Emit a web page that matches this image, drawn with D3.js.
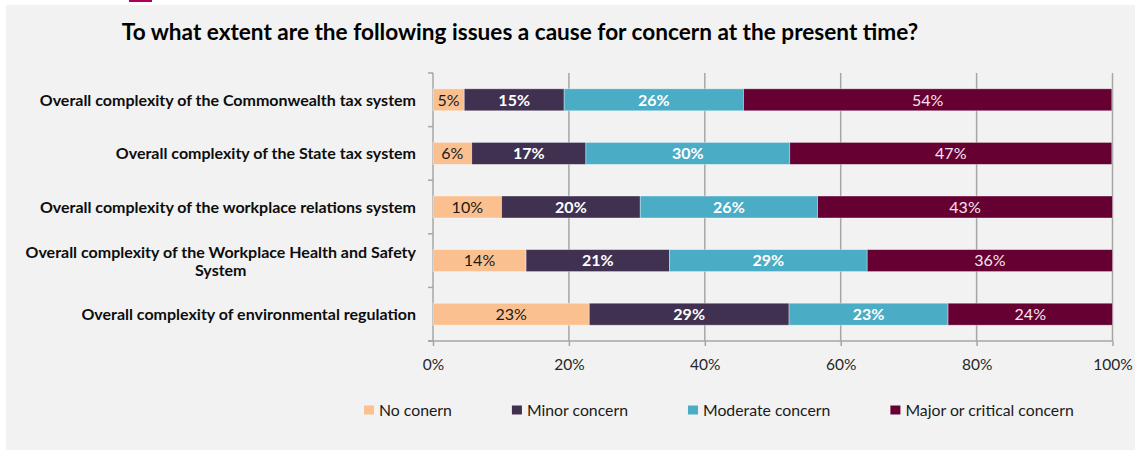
<!DOCTYPE html>
<html>
<head>
<meta charset="utf-8">
<script src="https://cdn.jsdelivr.net/npm/d3@7"></script>
<style>
  html, body { margin: 0; padding: 0; background: #ffffff; }
  svg { display: block; }
  text { font-family: Lato, "Open Sans", sans-serif; }
</style>
</head>
<body>
<svg id="chart" width="1135" height="450"></svg>
<script>
// ---- data ----
const title = "To what extent are the following issues a cause for concern at the present time?";
const categories = [
  "Overall complexity of the Commonwealth tax system",
  "Overall complexity of the State tax system",
  "Overall complexity of the workplace relations system",
  "Overall complexity of the Workplace Health and Safety System",
  "Overall complexity of environmental regulation"
];
const seriesNames = ["No conern", "Minor concern", "Moderate concern", "Major or critical concern"];
const noConcern = [4.6, 5.7, 10.1, 13.7, 23.0];
const minorConcern = [14.7, 16.8, 20.4, 21.1, 29.4];
const moderateConcern = [26.4, 30.0, 26.1, 29.1, 23.4];
const majorConcern = [54.2, 47.4, 43.4, 36.1, 24.2];
const xTicks = [0, 20, 40, 60, 80, 100];

// ---- styles ----
const colors = ["#fac090", "#403151", "#4bacc6", "#660033"];
const labelColors = ["#1a1a1a", "#ffffff", "#ffffff", "#f5e6ec"];
const labelWeights = ["normal", "bold", "bold", "normal"];

const svg = d3.select("#chart");
const W = 1135, H = 450;

// panel background
svg.append("rect").attr("x", 6).attr("y", 5).attr("width", W - 6).attr("height", H - 5).attr("fill", "#f2f2f2");
svg.append("rect").attr("x", 129).attr("y", 0).attr("width", 23).attr("height", 2).attr("fill", "#b0005a");

// title
svg.append("text").attr("x", 520).attr("y", 40).attr("text-anchor", "middle")
  .attr("font-size", 22.6).attr("font-weight", "bold").attr("fill", "#000").text(title);

const x = d3.scaleLinear().domain([0, 100]).range([433, 1112.5]);
const y = d3.scaleBand().domain(categories).range([73, 341]).paddingInner(0.59).paddingOuter(0.295);
const yb = d3.scaleBand().domain(categories).range([73, 341]);

// gridlines
svg.append("g").selectAll("line").data(xTicks.filter(t => t > 0)).join("line")
  .attr("x1", d => x(d)).attr("x2", d => x(d)).attr("y1", 73).attr("y2", 341)
  .attr("stroke", "#a6a6a6").attr("stroke-width", 1.5);

// x axis
const xAxis = d3.axisBottom(x).tickValues(xTicks).tickFormat(d => d + "%").tickSize(5).tickPadding(13);
const gx = svg.append("g").attr("transform", "translate(0,341)").call(xAxis);
gx.select(".domain").remove();
gx.append("line").attr("x1", 428).attr("x2", x(100)).attr("y1", 0).attr("y2", 0).attr("stroke", "#a6a6a6").attr("stroke-width", 1.5);
gx.selectAll(".tick line").attr("stroke", "#a6a6a6").attr("stroke-width", 1.5);
gx.selectAll(".tick text").attr("font-size", 15.5).attr("fill", "#262626").attr("font-family", "Lato, sans-serif");

// y axis line and ticks at band boundaries
svg.append("line").attr("x1", 433).attr("x2", 433).attr("y1", 73).attr("y2", 341).attr("stroke", "#a6a6a6").attr("stroke-width", 1.5);
const bounds = categories.map(c => yb(c)).concat([341]);
svg.append("g").selectAll("line").data(bounds).join("line")
  .attr("x1", 428).attr("x2", 433).attr("y1", d => d).attr("y2", d => d)
  .attr("stroke", "#a6a6a6").attr("stroke-width", 1.5);

// stacked data
const seriesArrays = [noConcern, minorConcern, moderateConcern, majorConcern];
const rows = categories.map((c, i) => {
  const r = { cat: c };
  seriesNames.forEach((s, k) => r[s] = seriesArrays[k][i]);
  return r;
});
const stack = d3.stack().keys(seriesNames)(rows);

const gBars = svg.append("g");
stack.forEach((layer, k) => {
  const g = gBars.append("g");
  g.selectAll("rect").data(layer).join("rect")
    .attr("x", d => x(d[0])).attr("width", d => x(d[1]) - x(d[0]))
    .attr("y", d => y(d.data.cat)).attr("height", y.bandwidth())
    .attr("fill", colors[k]).attr("stroke", "rgba(255,255,255,0.45)").attr("stroke-width", 0.8);
  g.selectAll("text").data(layer).join("text")
    .attr("x", d => (x(d[0]) + x(d[1])) / 2)
    .attr("y", d => y(d.data.cat) + y.bandwidth() / 2)
    .attr("dy", "0.36em").attr("text-anchor", "middle")
    .attr("font-size", 16).attr("font-weight", labelWeights[k]).attr("fill", labelColors[k])
    .text(d => Math.round(d[1] - d[0]) + "%");
});

// category labels
const labelRight = 416;
const catSize = 16;
categories.forEach((c, i) => {
  const cy = yb(c) + yb.bandwidth() / 2;
  if (c.length > 55) {
    const line1 = "Overall complexity of the Workplace Health and Safety";
    const line2 = c.slice(line1.length + 1);
    const t = svg.append("text").attr("font-size", catSize).attr("font-weight", "bold").attr("fill", "#0d0d0d");
    t.text(line1).attr("x", labelRight).attr("y", cy - 8.5).attr("dy", "0.36em").attr("text-anchor", "end");
    const w = t.node().getComputedTextLength();
    svg.append("text").attr("font-size", catSize).attr("font-weight", "bold").attr("fill", "#0d0d0d")
      .attr("x", labelRight - w / 2).attr("y", cy + 10).attr("dy", "0.36em").attr("text-anchor", "middle").text(line2);
  } else {
    svg.append("text").attr("font-size", catSize).attr("font-weight", "bold").attr("fill", "#0d0d0d")
      .attr("x", labelRight).attr("y", cy).attr("dy", "0.36em").attr("text-anchor", "end").text(c);
  }
});

// legend
const legend = svg.append("g");
let lx = 364;
seriesNames.forEach((s, k) => {
  legend.append("rect").attr("x", lx).attr("y", 405.5).attr("width", 10).attr("height", 9).attr("fill", colors[k]);
  const t = legend.append("text").attr("x", lx + 15).attr("y", 410.5).attr("dy", "0.36em")
    .attr("font-size", 15.8).attr("fill", "#1a1a1a").text(s);
  lx = lx + 15 + t.node().getComputedTextLength() + 60;
});
</script>
</body>
</html>
